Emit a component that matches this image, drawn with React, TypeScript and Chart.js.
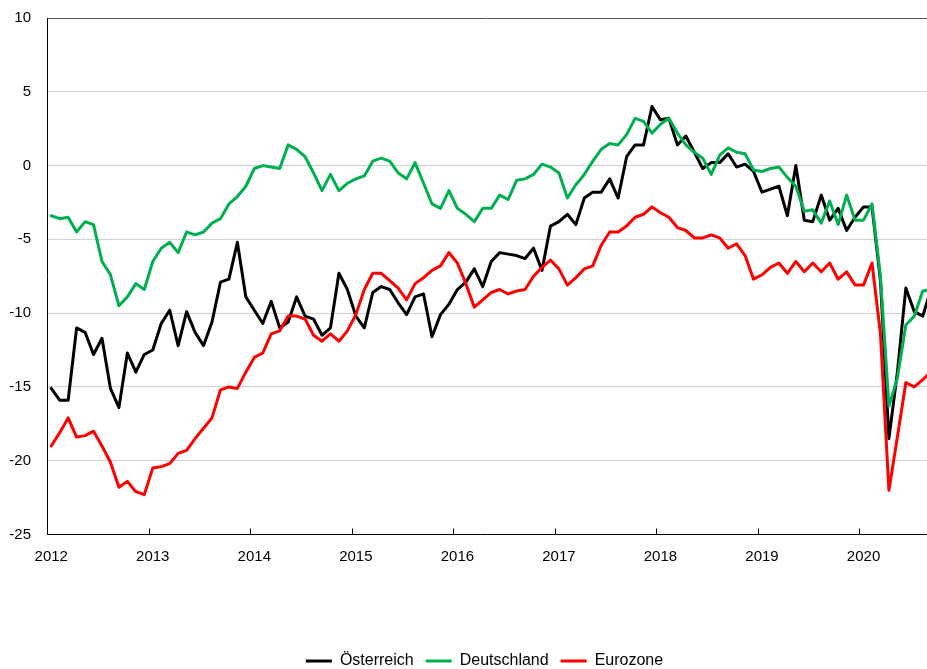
import React, { useEffect, useRef } from "react";
import { Chart, registerables } from "chart.js";

Chart.register(...registerables);

// Year labels (one label every 12 months, starting January 2012)
const yearLabels = ["2012", "2013", "2014", "2015", "2016", "2017", "2018", "2019", "2020"];
const seriesNames = ["Österreich", "Deutschland", "Eurozone"];
const seriesColors = ["#000000", "#00B050", "#FF0000"];

// Monthly values, Jan 2012 .. Sep 2020
const austria = [
  -15.1, -15.9, -15.9, -11.0, -11.3, -12.8, -11.7, -15.1, -16.4, -12.7, -14.0, -12.8,
  -12.5, -10.7, -9.8, -12.2, -9.9, -11.3, -12.2, -10.6, -7.9, -7.7, -5.2, -8.9,
  -9.8, -10.7, -9.2, -11.0, -10.6, -8.9, -10.2, -10.4, -11.5, -11.0, -7.3, -8.4,
  -10.2, -11.0, -8.6, -8.2, -8.4, -9.3, -10.1, -8.9, -8.7, -11.6, -10.1, -9.4,
  -8.4, -7.9, -7.0, -8.2, -6.5, -5.9, -6.0, -6.1, -6.3, -5.6, -7.1, -4.1,
  -3.8, -3.3, -4.0, -2.2, -1.8, -1.8, -0.9, -2.2, 0.6, 1.4, 1.4, 4.0,
  3.1, 3.2, 1.4, 2.0, 0.9, -0.2, 0.2, 0.2, 0.8, -0.1, 0.1, -0.4,
  -1.8, -1.6, -1.4, -3.4, 0.0, -3.7, -3.8, -2.0, -3.7, -2.9, -4.4, -3.5,
  -2.8, -2.8, -7.8, -18.5, -14.0, -8.3, -9.9, -10.2, -8.3,
];

const germany = [
  -3.4, -3.6, -3.5, -4.5, -3.8, -4.0, -6.5, -7.4, -9.5, -8.9, -8.0, -8.4,
  -6.5, -5.6, -5.2, -5.9, -4.5, -4.7, -4.5, -3.9, -3.6, -2.6, -2.1, -1.4,
  -0.2, 0.0, -0.1, -0.2, 1.4, 1.1, 0.6, -0.5, -1.7, -0.6, -1.7, -1.2,
  -0.9, -0.7, 0.3, 0.5, 0.3, -0.5, -0.9, 0.2, -1.2, -2.6, -2.9, -1.7,
  -2.9, -3.3, -3.8, -2.9, -2.9, -2.0, -2.3, -1.0, -0.9, -0.6, 0.1, -0.1,
  -0.5, -2.2, -1.3, -0.6, 0.3, 1.1, 1.5, 1.4, 2.1, 3.2, 3.0, 2.2,
  2.8, 3.2, 2.2, 1.4, 0.9, 0.5, -0.6, 0.7, 1.2, 0.9, 0.8, -0.3,
  -0.4, -0.2, -0.1, -0.8, -1.4, -3.1, -3.0, -3.9, -2.4, -4.0, -2.0, -3.7,
  -3.7, -2.6, -7.5, -16.3, -14.4, -10.8, -10.2, -8.5, -8.4,
];

const eurozone = [
  -19.0, -18.1, -17.1, -18.4, -18.3, -18.0, -19.0, -20.1, -21.8, -21.4, -22.1, -22.3,
  -20.5, -20.4, -20.2, -19.5, -19.3, -18.5, -17.8, -17.1, -15.2, -15.0, -15.1, -14.0,
  -13.0, -12.7, -11.4, -11.2, -10.2, -10.2, -10.4, -11.5, -11.9, -11.4, -11.9, -11.2,
  -10.1, -8.4, -7.3, -7.3, -7.8, -8.3, -9.1, -8.0, -7.6, -7.1, -6.8, -5.9,
  -6.6, -8.0, -9.6, -9.1, -8.6, -8.4, -8.7, -8.5, -8.4, -7.5, -6.9, -6.4,
  -7.0, -8.1, -7.6, -7.0, -6.8, -5.4, -4.5, -4.5, -4.1, -3.5, -3.3, -2.8,
  -3.2, -3.5, -4.2, -4.4, -4.9, -4.9, -4.7, -4.9, -5.6, -5.3, -6.1, -7.7,
  -7.4, -6.9, -6.6, -7.3, -6.5, -7.2, -6.6, -7.2, -6.6, -7.7, -7.2, -8.1,
  -8.1, -6.6, -11.4, -22.0, -18.4, -14.7, -15.0, -14.5, -14.0,
];

const seriesValues = [austria, germany, eurozone];

const FONT = "'Liberation Sans', Arial, sans-serif";

export default function App() {
  const ref = useRef<HTMLCanvasElement | null>(null);

  useEffect(() => {
    if (!ref.current) return;

    const yearTickMarks = {
      id: "yearTickMarks",
      afterLayout(chart: any) {
        // the original legend is centred on a wider chart: shift it right
        const lg = chart.legend;
        if (lg) {
          lg.left += 21;
          lg.right += 21;
        }
      },
      afterDatasetsDraw(chart: any) {
        const xs = chart.scales.x;
        const ctx = chart.ctx;
        const bottom = chart.chartArea.bottom;
        ctx.save();
        ctx.strokeStyle = "#000";
        ctx.lineWidth = 1;
        yearLabels.forEach((_, k) => {
          const px = Math.round(xs.getPixelForValue(k * 12 - 0.5)) + 0.5;
          ctx.beginPath();
          ctx.moveTo(px, bottom);
          ctx.lineTo(px, bottom - 6);
          ctx.stroke();
        });
        ctx.restore();
      },
    };

    const chart = new Chart(ref.current, {
      type: "line",
      data: {
        datasets: seriesNames.map((name, s) => ({
          label: name,
          data: seriesValues[s].map((y, x) => ({ x, y })),
          borderColor: seriesColors[s],
          backgroundColor: seriesColors[s],
          borderWidth: 3,
          pointRadius: 0,
          tension: 0,
          borderJoinStyle: "round",
          borderCapStyle: "round",
          order: 3 - s,
        })),
      },
      options: {
        animation: false,
        responsive: true,
        maintainAspectRatio: false,
        devicePixelRatio: 1,
        layout: { padding: { top: 18, left: 0, right: 0, bottom: -10 } },
        plugins: {
          tooltip: { enabled: false },
          legend: {
            position: "bottom",
            labels: {
              boxWidth: 26,
              boxHeight: 3,
              padding: 12,
              color: "#000",
              font: { family: FONT, size: 16 },
              sort: (a: any, b: any) => a.datasetIndex - b.datasetIndex,
              generateLabels: (c: any) => {
                const items = (Chart as any).defaults.plugins.legend.labels.generateLabels(c);
                items.forEach((it: any) => {
                  it.lineWidth = 0;
                });
                return items;
              },
            },
          },
        },
        scales: {
          x: {
            type: "linear",
            min: -0.5,
            max: 103.5,
            afterBuildTicks: (scale: any) => {
              scale.ticks = yearLabels.map((_, k) => ({ value: k * 12 }));
            },
            afterFit: (scale: any) => {
              scale.height = 106.5;
            },
            ticks: {
              autoSkip: false,
              maxRotation: 0,
              padding: 13,
              color: "#000",
              font: { family: FONT, size: 15 },
              callback: (v: any) => yearLabels[Math.round(Number(v) / 12)] ?? "",
            },
            grid: { display: false, drawTicks: false },
            border: { display: true, color: "#000", width: 1 },
          },
          y: {
            min: -25,
            max: 10,
            afterFit: (scale: any) => {
              scale.width = 47;
            },
            ticks: {
              stepSize: 5,
              padding: 0,
              color: "#000",
              font: { family: FONT, size: 15 },
            },
            grid: {
              drawTicks: true,
              tickLength: 16,
              tickColor: "rgba(0,0,0,0)",
              color: (ctx: any) => (ctx.tick && ctx.tick.value === 10 ? "#595959" : "#D0D0D0"),
              lineWidth: 1,
            },
            border: { display: true, color: "#000", width: 1 },
          },
        },
      },
      plugins: [yearTickMarks],
    } as any);

    return () => chart.destroy();
  }, []);

  return (
    <div
      style={{
        position: "fixed",
        left: 0,
        top: 0,
        width: 927,
        height: 669,
        background: "#fff",
      }}
    >
      <canvas ref={ref} />
    </div>
  );
}
